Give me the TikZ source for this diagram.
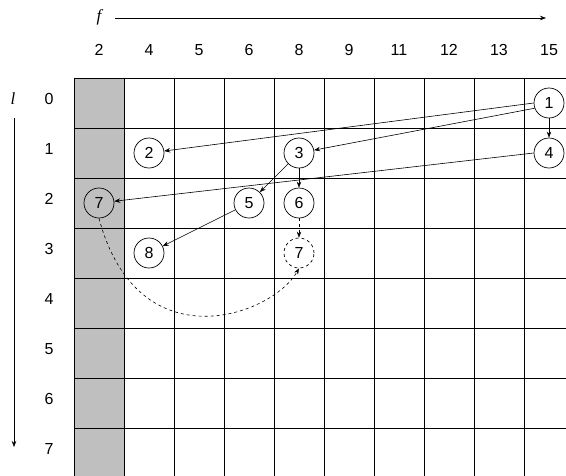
\documentclass[tikz,border=0pt]{standalone}
\usepackage{fontspec}
\setmainfont{Liberation Sans}
\newfontfamily\tmsfont{Liberation Serif}
\usetikzlibrary{arrows.meta}
\begin{document}
\begin{tikzpicture}[x=1pt,y=-1pt,
  lbl/.style={font=\fontsize{16}{18}\selectfont, inner sep=0pt},
  axlbl/.style={font=\fontsize{17}{19}\selectfont\tmsfont\itshape, inner sep=0pt},
  st/.style={draw, circle, minimum size=30pt, inner sep=0pt, font=\fontsize{16}{18}\selectfont, line width=0.7pt},
  dst/.style={st, dashed},
  gridline/.style={line width=0.8pt, black},
  arr/.style={-{Stealth[length=6pt,width=4.5pt]}, line width=0.6pt},
  darr/.style={arr, dashed}]
\clip (0,0) rectangle (566,475);
\fill[white] (0,0) rectangle (566,475);
% gray column
\fill[gray!50] (74,78) rectangle (124,480);
% grid
\foreach \i in {0,...,10} \draw[gridline] (74+50*\i,78) -- (74+50*\i,480);
\foreach \j in {0,...,8} \draw[gridline] (74,78+50*\j) -- (580,78+50*\j);
% axes
\node[axlbl] (fl) at (99,17) {f};
\coordinate (fa) at (115,18);
\coordinate (fb) at (546,18);
\draw[arr] (fa) -- (fb);
\node[axlbl] (ll) at (13,99) {l};
\coordinate (la) at (14,118);
\coordinate (lb) at (14,447);
\draw[arr] (la) -- (lb);
% column labels
\foreach \t [count=\k from 0] in {2,4,5,6,8,9,11,12,13,15}
  \node[lbl] (c\k) at (99+50*\k,50) {\t};
% row labels
\foreach \k in {0,...,7}
  \node[lbl] (r\k) at (49,99+50*\k) {\k};
% states
\node[st] (n1) at (549,103) {1};
\node[st] (n2) at (149,153) {2};
\node[st] (n3) at (299,153) {3};
\node[st] (n4) at (549,153) {4};
\node[st] (n7) at (99,203) {7};
\node[st] (n5) at (249,203) {5};
\node[st] (n6) at (299,203) {6};
\node[st] (n8) at (149,253) {8};
\node[dst] (n7d) at (299,253) {7};
% transitions
\draw[arr] (n1.west) -- (n2);
\draw[arr] (n1.200) -- (n3);
\draw[arr] (n1) -- (n4);
\draw[arr] (n4.west) -- (n7);
\draw[arr] (n3) -- (n5);
\draw[arr] (n3) -- (n6);
\draw[arr] (n5) -- (n8);
\draw[darr] (n6) -- (n7d);
\draw[darr] (n7.south) .. controls (138,364) and (272,316) .. (n7d.south);
\end{tikzpicture}
\end{document}
